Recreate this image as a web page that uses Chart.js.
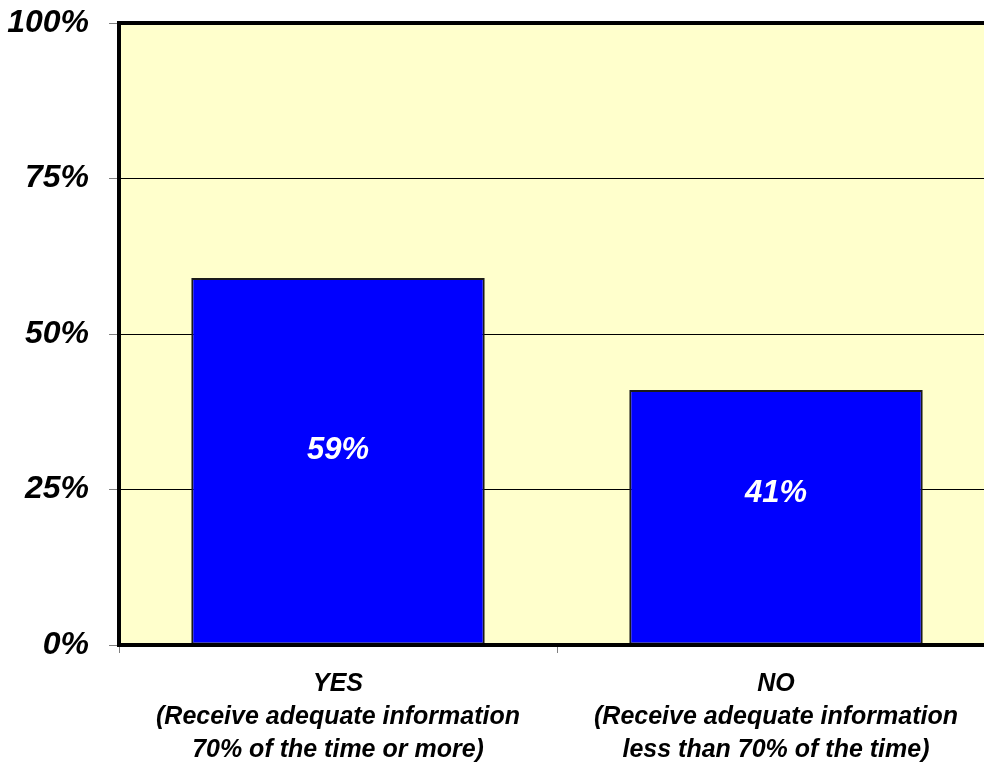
<!DOCTYPE html>
<html>
<head>
<meta charset="utf-8">
<script src="https://cdn.jsdelivr.net/npm/chart.js@4/dist/chart.umd.min.js"></script>
<style>
  html, body { margin: 0; padding: 0; background: #fff; overflow: hidden; }
  #wrap { width: 1000px; height: 762px; }
</style>
</head>
<body>
<div id="wrap"><canvas id="c" width="1000" height="762"></canvas></div>
<script>
// Survey answers and their shares (%)
const categories = [
  ['YES', '(Receive adequate information', '70% of the time or more)'],
  ['NO', '(Receive adequate information', 'less than 70% of the time)']
];
const shares = [59, 41];
const yTicks = [0, 25, 50, 75, 100];

const FONT = '"Liberation Sans", Arial, sans-serif';

// Thick frame on the left, top and bottom of the plot area
const framePlugin = {
  id: 'frame',
  afterDatasetsDraw(chart) {
    const { ctx, chartArea: a } = chart;
    ctx.save();
    ctx.strokeStyle = '#000';
    ctx.lineWidth = 4;
    ctx.lineCap = 'square';
    ctx.beginPath();
    ctx.moveTo(a.right + 10, a.top);
    ctx.lineTo(a.left, a.top);
    ctx.lineTo(a.left, a.bottom);
    ctx.lineTo(a.right + 10, a.bottom);
    ctx.stroke();
    ctx.restore();
  }
};

// Value labels drawn inside each bar, a little above its middle
const valueLabels = {
  id: 'valueLabels',
  afterDatasetsDraw(chart) {
    const { ctx } = chart;
    const meta = chart.getDatasetMeta(0);
    const yScale = chart.scales.y;
    ctx.save();
    ctx.fillStyle = '#fff';
    ctx.font = 'italic bold 31px ' + FONT;
    ctx.textAlign = 'center';
    ctx.textBaseline = 'middle';
    meta.data.forEach((bar, i) => {
      const y = yScale.getPixelForValue(shares[i] * 0.38 + 8.8);
      ctx.fillText(shares[i] + '%', bar.x, y);
    });
    ctx.restore();
  }
};

new Chart(document.getElementById('c'), {
  type: 'bar',
  data: {
    labels: categories,
    datasets: [{
      data: shares,
      backgroundColor: '#0000FF',
      borderColor: '#1a1a1a',
      borderWidth: 2,
      borderSkipped: false,
      barPercentage: 1,
      categoryPercentage: 0.67
    }]
  },
  options: {
    responsive: false,
    animation: false,
    layout: { padding: { top: 23, right: 5, left: 0, bottom: 0 } },
    plugins: {
      legend: { display: false },
      tooltip: { enabled: false }
    },
    scales: {
      x: {
        grid: {
          display: true,
          drawOnChartArea: false,
          tickColor: '#808080',
          tickLength: 8,
          tickWidth: 1
        },
        border: { display: false },
        ticks: {
          color: '#000',
          padding: 15,
          font: { family: FONT, size: 25, style: 'italic', weight: 'bold', lineHeight: 1.32 }
        },
        afterFit(scale) { scale.height = 117; }
      },
      y: {
        min: 0,
        max: 100,
        afterBuildTicks(scale) { scale.ticks = yTicks.map(v => ({ value: v })); },
        grid: {
          color: '#000',
          lineWidth: 1,
          tickColor: '#808080',
          tickLength: 10
        },
        border: { display: false },
        ticks: {
          color: '#000',
          padding: 20,
          callback: v => v + '%',
          font: { family: FONT, size: 32, style: 'italic', weight: 'bold', lineHeight: 0.4 }
        },
        afterFit(scale) {
          scale.width = 119;
          scale.paddingTop = 0;
          scale.paddingBottom = 0;
        }
      }
    }
  },
  plugins: [framePlugin, valueLabels, {
    id: 'plotBg',
    beforeDraw(chart) {
      const { ctx, chartArea: a } = chart;
      ctx.save();
      ctx.fillStyle = '#FFFFCC';
      ctx.fillRect(a.left, a.top, a.right - a.left + 10, a.bottom - a.top);
      ctx.restore();
    }
  }]
});
</script>
</body>
</html>
